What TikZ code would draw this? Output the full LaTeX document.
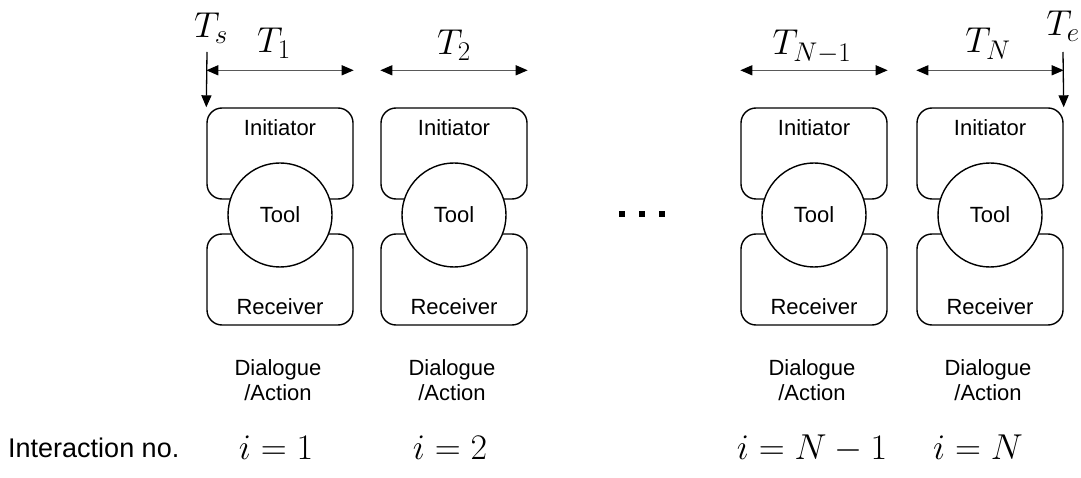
\RequirePackage{fix-cm}
\documentclass[tikz,border=0pt]{standalone}
\usepackage[no-math]{fontspec}
\setmainfont{Liberation Sans}
\DeclareMathSizes{36}{36}{27}{20}
\usetikzlibrary{arrows.meta,calc}
\tikzset{
  part/.style={draw, line width=1.4pt, rounded corners=15pt, minimum width=146pt, minimum height=91pt, inner sep=0pt},
  toolc/.style={draw, circle, fill=white, line width=1.4pt, minimum size=104pt, inner sep=0pt, font=\fontsize{22}{26}\selectfont},
  lbl/.style={font=\fontsize{22}{26}\selectfont, inner sep=0pt},
  captext/.style={font=\fontsize{22}{26}\selectfont, align=center, inner sep=0pt},
  mth/.style={font=\fontsize{36}{40}\selectfont, inner sep=0pt},
  spanarrow/.style={draw=black!65, line width=1.3pt, {Triangle[length=12pt,width=10pt,color=black]}-{Triangle[length=12pt,width=10pt,color=black]}},
  markarrow/.style={draw, line width=1.3pt, -{Triangle[length=12pt,width=10pt]}},
  dotsq/.style={fill=black, minimum size=6pt, inner sep=0pt}
}
\begin{document}
\begin{tikzpicture}[x=1pt,y=-1pt]
\useasboundingbox (0,0) rectangle (1081,478);

% one interaction unit per column: initiator, tool, receiver, caption
\foreach \cx/\n in {280/a,454/b,814/c,990/d}{
  \node[part] (ini\n) at (\cx,153.5) {};
  \node[part] (rec\n) at (\cx,279.5) {};
  \node[lbl] (init\n) at (\cx,128) {Initiator};
  \node[lbl] (rect\n) at (\cx,307) {Receiver};
  \node[toolc] (tool\n) at (\cx,215) {Tool};
  \node[captext] (dlg\n) at (\cx-2,380) {Dialogue\\[-1pt]/Action};
  \draw[spanarrow] ($(ini\n.north west)+(0,-37)$) coordinate (sl\n) -- ($(ini\n.north east)+(0,-37)$) coordinate (sr\n);
}

% duration labels
\node[mth, anchor=base] (t1) at (274,53) {$T_1$};
\node[mth, anchor=base] (t2) at (454,55) {$T_2$};
\node[mth, anchor=base] (tn1) at (812,55) {$T_{N-1}$};
\node[mth, anchor=base] (tn) at (988,53) {$T_N$};

% start and end markers
\coordinate (ts0) at (207,52);
\node[mth, anchor=base] (ts) at (211,38) {$T_s$};
\draw[markarrow] (ts0) -- (inia.north west);
\coordinate (te0) at (1063,52);
\node[mth, anchor=base] (te) at (1063,36) {$T_e$};
\draw[markarrow] (te0) -- (inid.north east);

% ellipsis between the columns
\node[dotsq] (d1) at (621.5,214.5) {};
\node[dotsq] (d2) at (641.5,214.5) {};
\node[dotsq] (d3) at (661.5,214.5) {};

% interaction counter
\node[font=\fontsize{27}{30}\selectfont, inner sep=0pt, anchor=base west] (ino) at (8,457) {Interaction no.};
\node[mth, anchor=base] (i1) at (276,459) {$i=1$};
\node[mth, anchor=base] (i2) at (450,459) {$i=2$};
\node[mth, anchor=base] (in1) at (812,459) {$i=N-1$};
\node[mth, anchor=base] (in) at (978,459) {$i=N$};
\end{tikzpicture}
\end{document}
